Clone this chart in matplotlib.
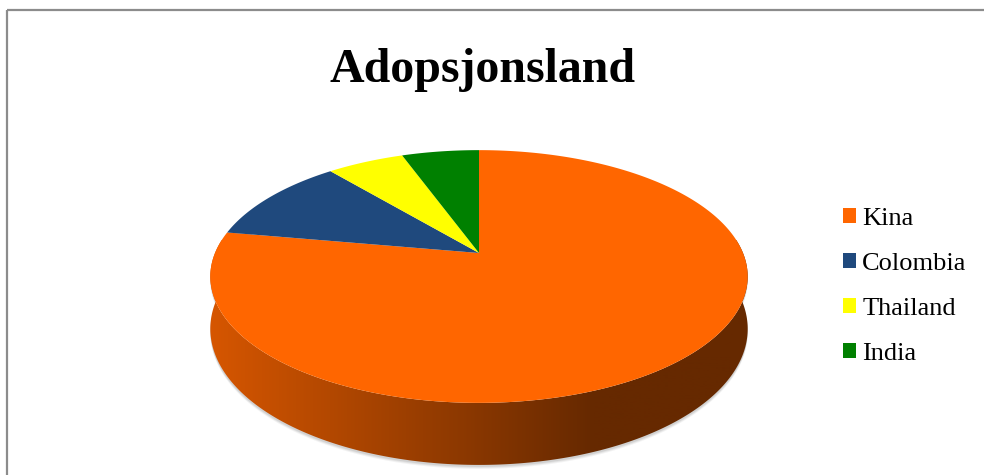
import numpy as np
import matplotlib
matplotlib.use("Agg")
import matplotlib.pyplot as plt

countries = ["Kina", "Colombia", "Thailand", "India"]
counts = [14, 2, 1, 1]
colors = ["#FF6600", "#1F497D", "#FFFF00", "#008000"]
title = "Adopsjonsland"

# geometry of the tilted pie (pixel-like data units)
cx, cy = 479, 253
rx, ry = 264, 122
k = 0.186        # perspective strength
depth = 50.5


def project(t):
    u = np.cos(t)
    v = np.sin(t)
    d = 1 + k * v
    return cx + rx * u / d, cy - ry * v / d, depth / d


fig = plt.figure(figsize=(9.84, 4.75), dpi=100)
ax = fig.add_axes([0, 0, 1, 1])

# side wall of the pie
t = np.linspace(np.pi - 0.4, 2 * np.pi + 0.4, 400)
x, y, d = project(t)
side_x = np.concatenate([x, x[::-1]])
side_y = np.concatenate([y, (y + d)[::-1]])
for off, a in [(4, 0.10), (3, 0.15), (2, 0.2)]:
    ax.fill(side_x, side_y + off, color="#8a8a8a", alpha=a, lw=0, zorder=1)
side = ax.fill(side_x, side_y, facecolor="none", edgecolor="none", zorder=2)[0]
xs = np.linspace(200, 760, 561)
frac = np.clip((xs - 210) / (594 - 210), 0, 1)[:, None]
c0 = np.array([214, 86, 0]) / 255
c1 = np.array([102, 41, 0]) / 255
grad = (c0 * (1 - frac) + c1 * frac)[None, :, :]
im = ax.imshow(grad, extent=[200, 760, 475, 240], aspect="auto", zorder=2)
im.set_clip_path(side)

# top face slices, clockwise from 12 o'clock
fracs = np.array(counts) / sum(counts)
starts = np.pi / 2 - 2 * np.pi * np.concatenate([[0], np.cumsum(fracs)[:-1]])
handles = []
for name, f, s, col in zip(countries, fracs, starts, colors):
    tt = np.linspace(s, s - 2 * np.pi * f, max(int(f * 400), 10))
    px, py, _ = project(tt)
    h = ax.fill(np.concatenate([[cx], px]), np.concatenate([[cy], py]),
                color=col, lw=0, zorder=3, label=name)[0]
    handles.append(h)

ax.text(482, 82, title, ha="center", va="baseline", fontsize=34.5,
        fontweight="bold", family="Liberation Serif")

ax.legend(handles, countries, loc="upper left", bbox_to_anchor=(843, 208),
          bbox_transform=ax.transData, frameon=False, borderpad=0, borderaxespad=0,
          handlelength=0.5, handleheight=0.5, handletextpad=0.23, labelspacing=0.87,
          prop={"family": "Liberation Serif", "size": 19})

# chart border (top and left visible)
ax.plot([6.5, 984], [9.5, 9.5], color="#8c8c8c", lw=1.6, solid_capstyle="butt")
ax.plot([6.5, 6.5], [9.5, 475], color="#8c8c8c", lw=1.6, solid_capstyle="butt")

ax.set_xlim(0, 984)
ax.set_ylim(475, 0)
ax.axis("off")
fig.savefig("out.png", dpi=100)
